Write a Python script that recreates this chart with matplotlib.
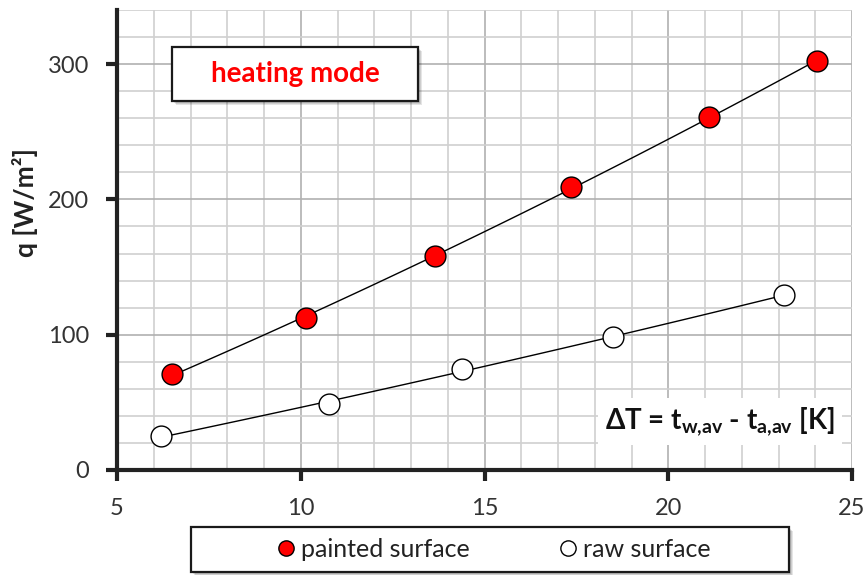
import numpy as np
import matplotlib
matplotlib.use("Agg")
import matplotlib.pyplot as plt
from matplotlib.patches import Rectangle
from matplotlib.lines import Line2D

# Data
painted_dT = [6.5, 10.15, 13.65, 17.35, 21.1, 24.05]
painted_q = [71, 112, 158, 209, 261, 302]
raw_dT = [6.2, 10.78, 14.4, 18.5, 23.15]
raw_q = [25, 48.5, 75, 98.5, 129]
x_ticks = [5, 10, 15, 20, 25]
y_ticks = [0, 100, 200, 300]

plt.rcParams['font.family'] = ['Lato', 'DejaVu Sans']
plt.rcParams['mathtext.fontset'] = 'custom'
plt.rcParams['mathtext.rm'] = 'Lato'
plt.rcParams['mathtext.bf'] = 'Lato:bold'

W, H = 868, 575
fig = plt.figure(figsize=(W / 100, H / 100), dpi=100)
L, R, B, T = 117, 852, 470, 10
ax = fig.add_axes([L / W, (H - B) / H, (R - L) / W, (B - T) / H])
ax.set_xlim(5, 25)
ax.set_ylim(0, 340)

# Grid
for xv in np.arange(6, 26, 1):
    c = '#b0b0b0' if xv % 5 == 0 else '#d0d0d0'
    ax.axvline(xv, color=c, lw=1.2, zorder=0)
for yv in np.arange(20, 341, 20):
    c = '#b0b0b0' if yv % 100 == 0 else '#d0d0d0'
    ax.axhline(yv, color=c, lw=1.2, zorder=0)

# Trend lines (quadratic fits through the data)
for xs, ys in [(painted_dT, painted_q), (raw_dT, raw_q)]:
    p = np.polyfit(xs, ys, 2)
    xx = np.linspace(min(xs), max(xs), 100)
    ax.plot(xx, np.polyval(p, xx), color='black', lw=1.0, zorder=2)

ax.plot(painted_dT, painted_q, 'o', ms=15, mfc='#ff0000', mec='black', mew=1.0, zorder=3, clip_on=False)
ax.plot(raw_dT, raw_q, 'o', ms=15, mfc='white', mec='black', mew=1.0, zorder=3, clip_on=False)

for s in ['top', 'right']:
    ax.spines[s].set_visible(False)
for s in ['left', 'bottom']:
    ax.spines[s].set_linewidth(3)
    ax.spines[s].set_color('#222222')
ax.set_xticks(x_ticks)
ax.set_yticks(y_ticks)
ax.tick_params(direction='out', length=8, width=3, color='#222222', labelsize=17, labelcolor='#333333')
ax.tick_params(axis='x', pad=12)
ax.tick_params(axis='y', pad=12)
ax.set_ylabel('q [W/m²]', fontsize=19, fontweight='bold', color='#222222')
ax.yaxis.set_label_coords((38 - 117) / 735, (470 - 203) / 460)

# delta T label
ax.text(0.977, 0.105, r'$\mathbf{\Delta}$T = t$_{\mathbf{w{,}av}}$ - t$_{\mathbf{a{,}av}}$ [K]',
        transform=ax.transAxes, ha='right', va='center', fontsize=20, fontweight='bold',
        color='#111111', zorder=5,
        bbox=dict(boxstyle='square,pad=0.25', fc='white', ec='none'))

def shadow_box(x0, y0, x1, y1):
    fx, fy = x0 / W, (H - y1) / H
    fw, fh = (x1 - x0) / W, (y1 - y0) / H
    for i, a in enumerate([0.10, 0.10, 0.10]):
        off = (i + 2) / W, (i + 2) / H
        fig.patches.append(Rectangle((fx + off[0], fy - off[1]), fw, fh, transform=fig.transFigure,
                                     fc='black', ec='none', alpha=a, zorder=8))
    fig.patches.append(Rectangle((fx, fy), fw, fh, transform=fig.transFigure,
                                 fc='white', ec='#1a1a1a', lw=1.6, zorder=9))
    return (x0 + x1) / 2 / W, (H - (y0 + y1) / 2) / H

cx, cy = shadow_box(172, 47, 418, 101)
fig.text(cx, cy, 'heating mode', ha='center', va='center', fontsize=20, fontweight='bold',
         color='#ff0000', zorder=10)

cx, cy = shadow_box(191, 527, 789, 572)
h1 = Line2D([], [], ls='none', marker='o', ms=11, mfc='#ff0000', mec='black', mew=1.0)
h2 = Line2D([], [], ls='none', marker='o', ms=11, mfc='white', mec='black', mew=1.0)
leg = fig.legend([h1, h2], ['painted surface', 'raw surface'], loc='center',
                 bbox_to_anchor=(cx + 2 / W, cy),
                 ncol=2, frameon=False, fontsize=18, handletextpad=0.1, columnspacing=3.4,
                 handlelength=1.0)
leg.set_zorder(10)
for t in leg.get_texts():
    t.set_color('#222222')

fig.savefig('out.png', dpi=100)
